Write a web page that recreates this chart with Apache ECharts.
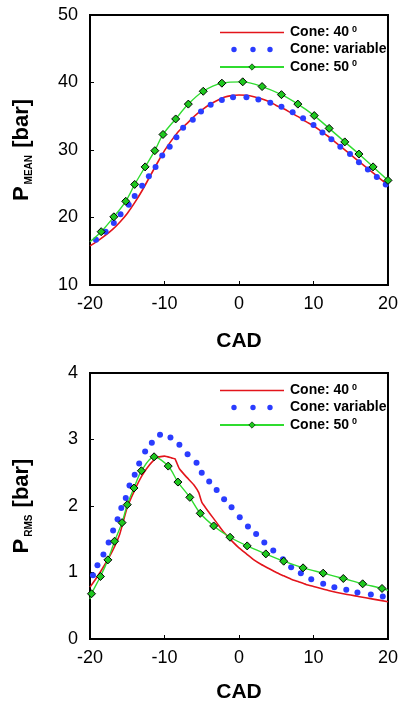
<!DOCTYPE html>
<html><head><meta charset="utf-8">
<script src="https://cdn.jsdelivr.net/npm/echarts@6/dist/echarts.min.js"></script>
<style>html,body{margin:0;padding:0;background:#fff}#c{width:401px;height:704px}</style>
</head><body><div id="c"></div>
<script>
// ---- tick labels ----
const xTicks = [-20, -10, 0, 10, 20];
const meanTicks = [10, 20, 30, 40, 50];
const rmsTicks = [0, 1, 2, 3, 4];
const seriesNames = ['Cone: 40', 'Cone: variable', 'Cone: 50'];

// ---- P_MEAN ----
const mean40X = [-20,-19,-18,-17,-16,-15,-14,-13,-12,-11,-10,-9,-8,-7,-6,-5,-4,-3,-2,-1,0,1,2,3,4,5,6,7,8,9,10,11,12,13,14,15,16,17,18,19,20];
const mean40Y = [15.8,16.5,17.3,18.2,19.3,20.6,22.2,24.0,26.0,28.0,29.9,31.5,32.9,33.9,35.0,35.9,36.7,37.3,37.8,38.05,38.15,38.1,37.9,37.6,37.2,36.6,36.1,35.5,34.9,34.2,33.6,32.8,32.0,31.1,30.2,29.3,28.4,27.5,26.6,25.7,24.8];
const meanVarX = [-19.2,-17.9,-16.8,-15.9,-14.8,-14.0,-13.0,-12.1,-11.2,-10.3,-9.3,-8.4,-7.5,-6.2,-5.1,-3.8,-2.3,-0.8,1.0,2.6,4.2,5.7,7.2,8.6,10.0,11.2,12.4,13.6,14.9,16.1,17.3,18.5,19.7];
const meanVarY = [16.7,17.9,19.2,20.5,21.9,23.2,24.7,26.1,27.5,29.2,30.5,31.9,33.3,34.5,35.7,36.7,37.4,37.8,37.8,37.5,37.0,36.4,35.6,34.7,33.7,32.6,31.6,30.5,29.4,28.2,27.1,26.0,24.9];
const mean50X = [-20,-18.5,-16.8,-15.2,-14.0,-12.6,-11.3,-10.2,-8.5,-6.8,-4.8,-2.3,0.5,3.1,5.7,7.9,10.1,12.1,14.2,16.1,18.0,20.0];
const mean50Y = [16.4,17.9,20.1,22.4,24.9,27.5,29.9,32.3,34.6,36.8,38.7,39.9,40.1,39.4,38.2,36.8,35.1,33.2,31.2,29.4,27.5,25.5];
const mean50NoMarker = [-20];

// ---- P_RMS ----
const rms40X = [-20,-19,-18,-17,-16,-15,-14,-13,-12,-11,-10,-9,-8.6,-8,-7,-6,-5.4,-5,-4,-3,-2,-1,0,1,2,3,4,5,6,7,8,9,10,12,14,16,18,20];
const rms40Y = [0.78,0.94,1.12,1.32,1.58,1.98,2.24,2.46,2.62,2.73,2.75,2.72,2.71,2.56,2.43,2.31,2.2,2.06,1.9,1.75,1.6,1.48,1.37,1.28,1.19,1.12,1.06,1.0,0.95,0.9,0.86,0.82,0.79,0.73,0.68,0.64,0.6,0.56];
const rmsVarX = [-19.6,-19.0,-18.2,-17.5,-16.9,-16.3,-15.8,-15.2,-14.7,-14.0,-13.4,-12.6,-11.7,-10.6,-9.2,-8.0,-6.9,-5.7,-5.0,-4.0,-3.0,-2.0,-1.0,0.1,1.2,2.3,3.4,4.6,5.9,7.0,8.3,9.7,11.3,12.8,14.4,15.9,17.7,19.3];
const rmsVarY = [0.96,1.11,1.27,1.45,1.63,1.80,1.97,2.12,2.31,2.47,2.64,2.82,2.95,3.07,3.03,2.92,2.78,2.65,2.50,2.37,2.24,2.10,1.98,1.83,1.69,1.58,1.45,1.33,1.20,1.08,0.99,0.90,0.83,0.78,0.74,0.70,0.67,0.64];
const rms50X = [-20,-19.8,-18.6,-17.6,-16.7,-15.7,-15.0,-14.1,-13.1,-11.4,-9.5,-8.2,-6.6,-5.2,-3.4,-1.2,1.1,3.6,6.0,8.6,11.3,14.0,16.6,19.2,20];
const rms50Y = [0.60,0.68,0.94,1.19,1.47,1.75,2.02,2.27,2.53,2.74,2.60,2.36,2.13,1.89,1.70,1.53,1.40,1.28,1.17,1.07,0.99,0.91,0.83,0.76,0.73];
const rms50NoMarker = [-20, 20];

// ---- build ----
const FONT = 'Arial, "Liberation Sans", sans-serif';
const RED = '#e3141b', BLUE = '#2a3cff', GREEN_LINE = '#2fdc2f', GREEN_FILL = '#1ec81e';
const zip = (xs, ys) => xs.map((x, i) => [x, ys[i]]);
const markerItems = (xs, ys, none) => xs.map((x, i) => none.includes(x) ? {value: [x, ys[i]], symbol: 'none'} : {value: [x, ys[i]]});

function xAxis(grid, gap) {
  return {
    type: 'value', gridIndex: grid, min: xTicks[0], max: xTicks[xTicks.length - 1], interval: 10,
    axisLine: {show: true, onZero: false, lineStyle: {color: '#000', width: 2}},
    axisTick: {show: true, inside: true, length: 4, lineStyle: {color: '#000', width: 1}},
    splitLine: {show: false},
    axisLabel: {color: '#000', fontSize: 18, fontFamily: FONT, margin: 10},
    name: 'CAD', nameLocation: 'middle', nameGap: gap,
    nameTextStyle: {color: '#000', fontSize: 21, fontWeight: 'bold', fontFamily: FONT}
  };
}
function yAxis(grid, ticks, sub) {
  return {
    type: 'value', gridIndex: grid, min: ticks[0], max: ticks[ticks.length - 1], interval: ticks[1] - ticks[0],
    axisLine: {show: true, onZero: false, lineStyle: {color: '#000', width: 2}},
    axisTick: {show: true, inside: true, length: 4, lineStyle: {color: '#000', width: 1}},
    splitLine: {show: false},
    axisLabel: {color: '#000', fontSize: 18, fontFamily: FONT, margin: 12},
    name: '{p|P}{s|' + sub + '}{p| [bar]}', nameLocation: 'middle', nameGap: 56,
    nameTextStyle: {
      color: '#000', fontFamily: FONT,
      rich: {
        p: {fontSize: 22, fontWeight: 'bold', color: '#000', fontFamily: FONT, lineHeight: 24},
        s: {fontSize: 10, fontWeight: 'bold', color: '#000', fontFamily: FONT, verticalAlign: 'bottom', lineHeight: 24, padding: [0, 1, 0, 2]}
      }
    }
  };
}
function legend(top) {
  return {
    orient: 'vertical', left: 214, top: top, itemWidth: 64, itemHeight: 8, itemGap: 3,
    selectedMode: false,
    data: [
      {name: seriesNames[0], icon: 'path://M0,0M64,8M0,3.2L64,3.2L64,4.8L0,4.8Z'},
      {name: seriesNames[1], icon: 'path://M0,0M64,8M11.3,4a2.7,2.7 0 1,0 5.4,0a2.7,2.7 0 1,0 -5.4,0M30.3,4a2.7,2.7 0 1,0 5.4,0a2.7,2.7 0 1,0 -5.4,0M47.3,4a2.7,2.7 0 1,0 5.4,0a2.7,2.7 0 1,0 -5.4,0'},
      {name: seriesNames[2], itemStyle: {color: GREEN_FILL, borderColor: '#000', borderWidth: 0.6}}
    ],
    formatter: n => n === seriesNames[1] ? '{t|' + n + '}' : '{t|' + n + '}{s|0}',
    textStyle: {
      color: '#000',
      rich: {
        t: {fontSize: 14, fontWeight: 'bold', fontFamily: FONT, color: '#000', lineHeight: 15, padding: [0, 0, 0, 1]},
        s: {fontSize: 9, fontWeight: 'bold', fontFamily: FONT, color: '#000', verticalAlign: 'top', lineHeight: 9, padding: [0, 0, 0, 3]}
      }
    }
  };
}
function seriesSet(ax, d40, dVar, d50, smooth40) {
  return [
    {name: seriesNames[0], type: 'line', xAxisIndex: ax, yAxisIndex: ax, data: d40, symbol: 'none', showSymbol: false,
     smooth: smooth40, lineStyle: {color: RED, width: 1.6}, itemStyle: {color: RED}, z: 3},
    {name: seriesNames[1], type: 'scatter', xAxisIndex: ax, yAxisIndex: ax, data: dVar, symbol: 'circle', symbolSize: 6,
     itemStyle: {color: BLUE, opacity: 1}, z: 4},
    {name: seriesNames[2], type: 'line', xAxisIndex: ax, yAxisIndex: ax, data: d50, symbol: 'diamond', symbolSize: 8, showAllSymbol: true,
     smooth: 0.3, lineStyle: {color: GREEN_LINE, width: 1.4}, itemStyle: {color: GREEN_FILL, borderColor: '#000', borderWidth: 1}, z: 5}
  ];
}

const chart = echarts.init(document.getElementById('c'), null, {renderer: 'canvas'});
chart.setOption({
  animation: false,
  backgroundColor: '#fff',
  grid: [
    {left: 90, top: 15, width: 300, height: 270, show: true, borderColor: '#000', borderWidth: 2, backgroundColor: 'transparent'},
    {left: 90, top: 373, width: 300, height: 267, show: true, borderColor: '#000', borderWidth: 2, backgroundColor: 'transparent'}
  ],
  xAxis: [xAxis(0, 46), xAxis(1, 43)],
  yAxis: [yAxis(0, meanTicks, 'MEAN'), yAxis(1, rmsTicks, 'RMS')],
  legend: [legend(20), legend(378)],
  series: [
    ...seriesSet(0, zip(mean40X, mean40Y), zip(meanVarX, meanVarY), markerItems(mean50X, mean50Y, mean50NoMarker), 0.3),
    ...seriesSet(1, zip(rms40X, rms40Y), zip(rmsVarX, rmsVarY), markerItems(rms50X, rms50Y, rms50NoMarker), 0.15)
  ]
});
</script></body></html>
